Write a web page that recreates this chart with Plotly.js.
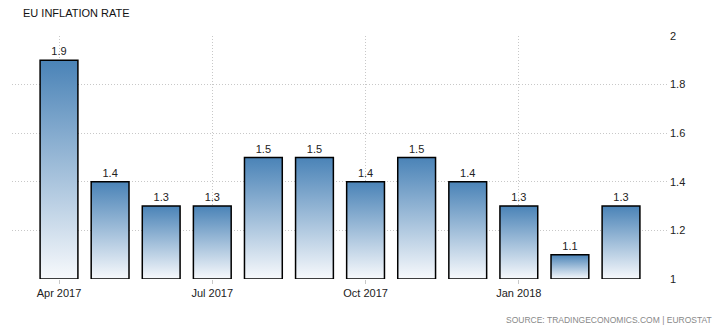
<!DOCTYPE html>
<html>
<head>
<meta charset="utf-8">
<script src="https://cdn.plot.ly/plotly-3.0.1.min.js"></script>
<style>
html,body{margin:0;padding:0;background:#fff;}
#chart{width:714px;height:330px;}
</style>
</head>
<body>
<div id="chart"></div>
<script>
var months = ["Apr 2017","May 2017","Jun 2017","Jul 2017","Aug 2017","Sep 2017","Oct 2017","Nov 2017","Dec 2017","Jan 2018","Feb 2018","Mar 2018"];
var inflation = [1.9,1.4,1.3,1.3,1.5,1.5,1.4,1.5,1.4,1.3,1.1,1.3];
var xTickIdx = [0,3,6,9];
var yTicks = [1,1.2,1.4,1.6,1.8,2];
var yTickText = ["1","1.2","1.4","1.6","1.8","2"];

var idx = months.map(function(m,i){return i;});
var trace = {
  type:'bar',
  x: idx,
  y: inflation.map(function(v){return v-1;}),
  base: 1,
  text: inflation.map(function(v){return v.toFixed(1);}),
  textposition:'outside',
  cliponaxis:false,
  textfont:{family:'Liberation Sans, Arial, sans-serif', size:11, color:'#222'},
  marker:{color:'#7fa6cc', line:{color:'#000', width:1.5}},
  hoverinfo:'none'
};
var layout = {
  width:714, height:330,
  margin:{l:12, r:47, t:36, b:51},
  paper_bgcolor:'#fff', plot_bgcolor:'#fff',
  bargap:0.26,
  showlegend:false,
  xaxis:{
    range:[-0.92, 11.9],
    tickvals: xTickIdx,
    ticktext: xTickIdx.map(function(i){return months[i];}),
    showgrid:true, gridcolor:'#c8c8c8', griddash:'1px,2px', gridwidth:1,
    ticks:'outside', ticklen:4, tickcolor:'#c8c8c8',
    zeroline:false, showline:false,
    tickfont:{family:'Liberation Sans, Arial, sans-serif', size:11, color:'#222'}
  },
  yaxis:{
    range:[1,2],
    side:'right',
    tickvals: yTicks, ticktext: yTickText,
    showgrid:true, gridcolor:'#c8c8c8', griddash:'1px,2px', gridwidth:1,
    zeroline:false, showline:false, ticks:'',
    ticklabelstandoff:2,
    tickfont:{family:'Liberation Sans, Arial, sans-serif', size:11, color:'#222'}
  },
  annotations:[
    {text:'EU INFLATION RATE', xref:'paper', yref:'paper', x:0.013, y:1, yshift:23, xanchor:'left', yanchor:'middle', showarrow:false,
     font:{family:'Liberation Sans, Arial, sans-serif', size:11, color:'#111'}},
    {text:'SOURCE: TRADINGECONOMICS.COM | EUROSTAT', xref:'paper', yref:'paper', x:1.072, y:0, yshift:-41, xanchor:'right', yanchor:'middle', showarrow:false,
     font:{family:'Liberation Sans, Arial, sans-serif', size:8.5, color:'#888'}}
  ]
};
function applyGradient(){
  var svg = document.querySelector('#chart .main-svg');
  if(!svg) return;
  var defs = svg.querySelector('defs');
  if(!defs){defs=document.createElementNS('http://www.w3.org/2000/svg','defs'); svg.insertBefore(defs, svg.firstChild);}
  if(!document.getElementById('barGrad')){
    var g = document.createElementNS('http://www.w3.org/2000/svg','linearGradient');
    g.setAttribute('id','barGrad'); g.setAttribute('x1','0'); g.setAttribute('y1','0'); g.setAttribute('x2','0'); g.setAttribute('y2','1');
    [['0','#4a83b7'],['1','#f7f9fc']].forEach(function(s){
      var st=document.createElementNS('http://www.w3.org/2000/svg','stop');
      st.setAttribute('offset',s[0]); st.setAttribute('stop-color',s[1]); g.appendChild(st);
    });
    defs.appendChild(g);
  }
  document.querySelectorAll('#chart .bars .point path').forEach(function(p){
    p.style.fill='url(#barGrad)'; p.style.fillOpacity='1';
  });
}
Plotly.newPlot('chart',[trace],layout,{staticPlot:true}).then(applyGradient);
document.getElementById('chart').on && document.getElementById('chart').on('plotly_afterplot', applyGradient);
</script>
</body>
</html>
